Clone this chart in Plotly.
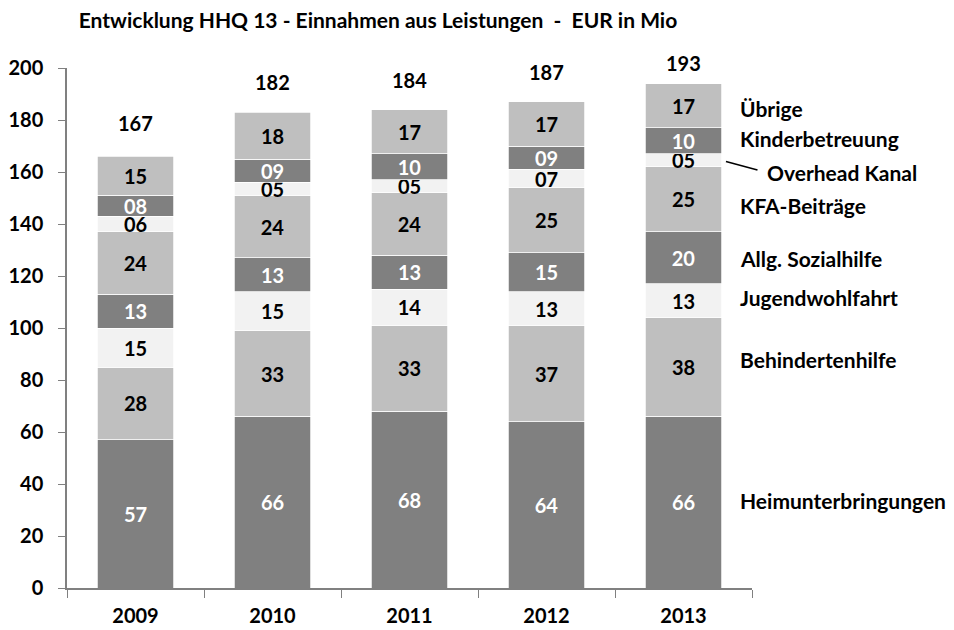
import plotly.graph_objects as go

years = ["2009", "2010", "2011", "2012", "2013"]
series_names = ["Heimunterbringungen", "Behindertenhilfe", "Jugendwohlfahrt",
                "Allg. Sozialhilfe", "KFA-Beiträge", "Overhead Kanal",
                "Kinderbetreuung", "Übrige"]
heim = [57, 66, 68, 64, 66]
behind = [28, 33, 33, 37, 38]
jugend = [15, 15, 14, 13, 13]
allg = [13, 13, 13, 15, 20]
kfa = [24, 24, 24, 25, 25]
overhead = [6, 5, 5, 7, 5]
kinder = [8, 9, 10, 9, 10]
uebrige = [15, 18, 17, 17, 17]
totals = [167, 182, 184, 187, 193]

values = [heim, behind, jugend, allg, kfa, overhead, kinder, uebrige]
colors = ["#808080", "#bfbfbf", "#f2f2f2", "#808080", "#bfbfbf", "#f2f2f2", "#808080", "#bfbfbf"]
textcolors = ["white", "black", "black", "white", "black", "black", "white", "black"]

FONT = "Lato, Carlito, Calibri, sans-serif"
NUM = 20
LBL = 21

fig = go.Figure()
for name, vals, c, tc in zip(series_names, values, colors, textcolors):
    fig.add_trace(go.Bar(
        x=years, y=vals, name=name,
        marker=dict(color=c, line=dict(width=0.75, color="white")),
        text=[f"{v:02d}" for v in vals],
        textposition="inside", insidetextanchor="middle", textangle=0,
        constraintext="none",
        textfont=dict(family=FONT, size=NUM, color=tc, weight="bold"),
        hoverinfo="skip",
    ))

total_shift = [31, 33, 30, 30, 23]
for i, (t, s) in enumerate(zip(totals, total_shift)):
    fig.add_annotation(x=i, xref="x", y=t, text=str(t), showarrow=False, yanchor="middle",
                       yshift=s, font=dict(family=FONT, size=NUM, color="black", weight="bold"))

# right-side series labels
label_pos = [("Übrige", 0.982, 184.6), ("Kinderbetreuung", 0.982, 173.0),
             ("Overhead Kanal", 1.022, 160.0), ("KFA-Beiträge", 0.982, 147.3),
             ("Allg. Sozialhilfe", 0.982, 126.9), ("Jugendwohlfahrt", 0.982, 111.9),
             ("Behindertenhilfe", 0.982, 87.7), ("Heimunterbringungen", 0.982, 33.8)]
for txt, xp, yv in label_pos:
    fig.add_annotation(x=xp, xref="paper", y=yv, yref="y", text=txt, showarrow=False,
                       xanchor="left", yanchor="middle", xshift=-2,
                       font=dict(family=FONT, size=LBL, color="black", weight="bold"))

fig.add_shape(type="line", xref="paper", yref="y", x0=0.962, y0=164.0, x1=1.008, y1=160.8,
              line=dict(color="black", width=1.5))

# the page body adds an 8px offset, so margins are compensated
fig.update_layout(
    width=954, height=630,
    barmode="stack", bargap=0.44,
    plot_bgcolor="white", paper_bgcolor="white",
    showlegend=False,
    margin=dict(l=59, r=210, t=60, b=50, autoexpand=False),
    uniformtext=dict(minsize=NUM, mode="show"),
    title=dict(text="Entwicklung HHQ 13 - Einnahmen aus Leistungen  -  EUR in Mio",
               x=370 / 954, xanchor="center", y=1 - 13 / 630, yanchor="middle",
               font=dict(family=FONT, size=LBL, color="black", weight="bold")),
    xaxis=dict(type="category", range=[-0.5, len(years) - 0.5], autorange=False,
               automargin=False,
               showline=True, linecolor="#808080", linewidth=1.5,
               ticks="outside", tickson="boundaries", ticklen=8, tickcolor="#808080",
               ticklabelstandoff=9,
               tickfont=dict(family=FONT, size=NUM, color="black", weight="bold"),
               showgrid=False),
    yaxis=dict(range=[0, 200], dtick=20, automargin=False,
               showline=True, linecolor="#808080", linewidth=1.5,
               ticks="outside", ticklen=7, tickcolor="#808080", showgrid=False, zeroline=False,
               ticklabelstandoff=11,
               tickfont=dict(family=FONT, size=NUM, color="black", weight="bold")),
)

fig.write_html("out.html")
